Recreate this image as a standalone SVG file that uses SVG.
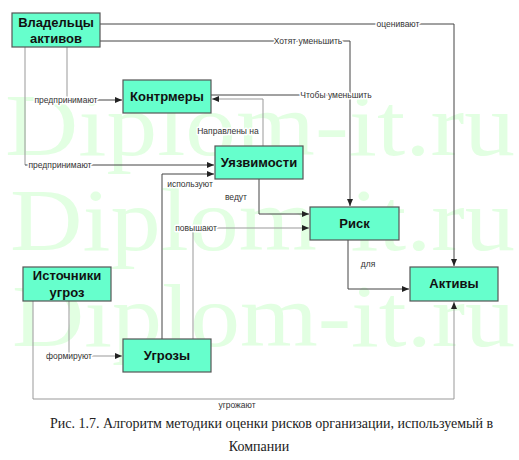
<svg xmlns="http://www.w3.org/2000/svg" width="519" height="460" viewBox="0 0 519 460">
<style>
.wm{font-family:"Liberation Serif","DejaVu Serif",serif;font-size:88px;fill:#e2ffe2}
.box{fill:#66ffcc;stroke:#555;stroke-width:1.2}
.bt{font-family:"Liberation Sans",Arial,sans-serif;font-size:13px;font-weight:bold;fill:#111;text-anchor:middle}
.ln{fill:none;stroke:#444;stroke-width:1}
.lt{fill:none;stroke:#999;stroke-width:1}
.lb{font-family:"Liberation Sans",Arial,sans-serif;font-size:8.5px;fill:#333;text-anchor:middle;stroke:#fff;stroke-width:3;paint-order:stroke;stroke-linejoin:round}
.cap{font-family:"Liberation Serif","Times New Roman",serif;font-size:14px;fill:#222}
</style>
<defs>
<marker id="ar" markerUnits="userSpaceOnUse" markerWidth="7" markerHeight="6" refX="7" refY="3" orient="auto">
<path d="M0,0 L7,3 L0,6 z" fill="#222"/>
</marker>
</defs>
<rect width="519" height="460" fill="#fff"/>
<g id="watermark">
<text class="wm" x="5" y="155" textLength="510" lengthAdjust="spacingAndGlyphs">Diplom-it.ru</text>
<text class="wm" x="10" y="250" textLength="505" lengthAdjust="spacingAndGlyphs">Diplom-it.ru</text>
<text class="wm" x="12" y="346" textLength="503" lengthAdjust="spacingAndGlyphs">Diplom-it.ru</text>
</g>
<g id="connectors">
<path class="ln" d="M100,24 H454 V266" marker-end="url(#ar)"/>
<path class="ln" d="M100,41 H350 V206" marker-end="url(#ar)"/>
<path class="lt" d="M67,47 V100"/>
<path class="ln" d="M67,100 H122" marker-end="url(#ar)"/>
<path class="lt" d="M25,47 V165"/>
<path class="ln" d="M25,165 H214" marker-end="url(#ar)"/>
<path class="ln" d="M211,95 H350"/>
<path class="lt" d="M263,146 V99 H212" marker-end="url(#ar)"/>
<path class="ln" d="M259,179 V214 H309" marker-end="url(#ar)"/>
<path class="ln" d="M162,339 V174 H214" marker-end="url(#ar)"/>
<path class="lt" d="M193,339 V228 H309" marker-end="url(#ar)"/>
<path class="ln" d="M348,240 V289 H409" marker-end="url(#ar)"/>
<path class="lt" d="M69,301 V356 H122" marker-end="url(#ar)"/>
<path class="lt" d="M33,301 V399 H454 V302" marker-end="url(#ar)"/>
<text class="lb" x="398" y="27">оценивают</text>
<text class="lb" x="308" y="44">Хотят уменьшить</text>
<text class="lb" x="336" y="98">Чтобы уменьшить</text>
<text class="lb" x="66" y="103">предпринимают</text>
<text class="lb" x="228" y="134">Направлены на</text>
<text class="lb" x="60" y="168">предпринимают</text>
<text class="lb" x="190" y="187">используют</text>
<text class="lb" x="236" y="200">ведут</text>
<text class="lb" x="196" y="231">повышают</text>
<text class="lb" x="368" y="267">для</text>
<text class="lb" x="69" y="359">формируют</text>
<text class="lb" x="237" y="408">угрожают</text>
</g>
<g id="owners">
<rect class="box" x="12" y="13" width="88" height="34"/>
<text class="bt" x="56" y="27">Владельцы</text>
<text class="bt" x="56" y="43">активов</text>
</g>
<g id="countermeasures">
<rect class="box" x="123" y="80" width="88" height="33"/>
<text class="bt" x="167" y="101">Контрмеры</text>
</g>
<g id="vulnerabilities">
<rect class="box" x="215" y="146" width="88" height="33"/>
<text class="bt" x="259" y="167">Уязвимости</text>
</g>
<g id="risk">
<rect class="box" x="310" y="207" width="89" height="33"/>
<text class="bt" x="354.5" y="228">Риск</text>
</g>
<g id="assets">
<rect class="box" x="410" y="267" width="88" height="34"/>
<text class="bt" x="454" y="288">Активы</text>
</g>
<g id="threat-sources">
<rect class="box" x="23" y="267" width="88" height="34"/>
<text class="bt" x="67" y="280">Источники</text>
<text class="bt" x="67" y="297">угроз</text>
</g>
<g id="threats">
<rect class="box" x="123" y="339" width="88" height="33"/>
<text class="bt" x="167" y="360">Угрозы</text>
</g>
<g id="caption">
<text class="cap" x="50" y="428">Рис. 1.7. Алгоритм методики оценки рисков организации, используемый в</text>
<text class="cap" x="259" y="451" text-anchor="middle">Компании</text>
</g>
</svg>
